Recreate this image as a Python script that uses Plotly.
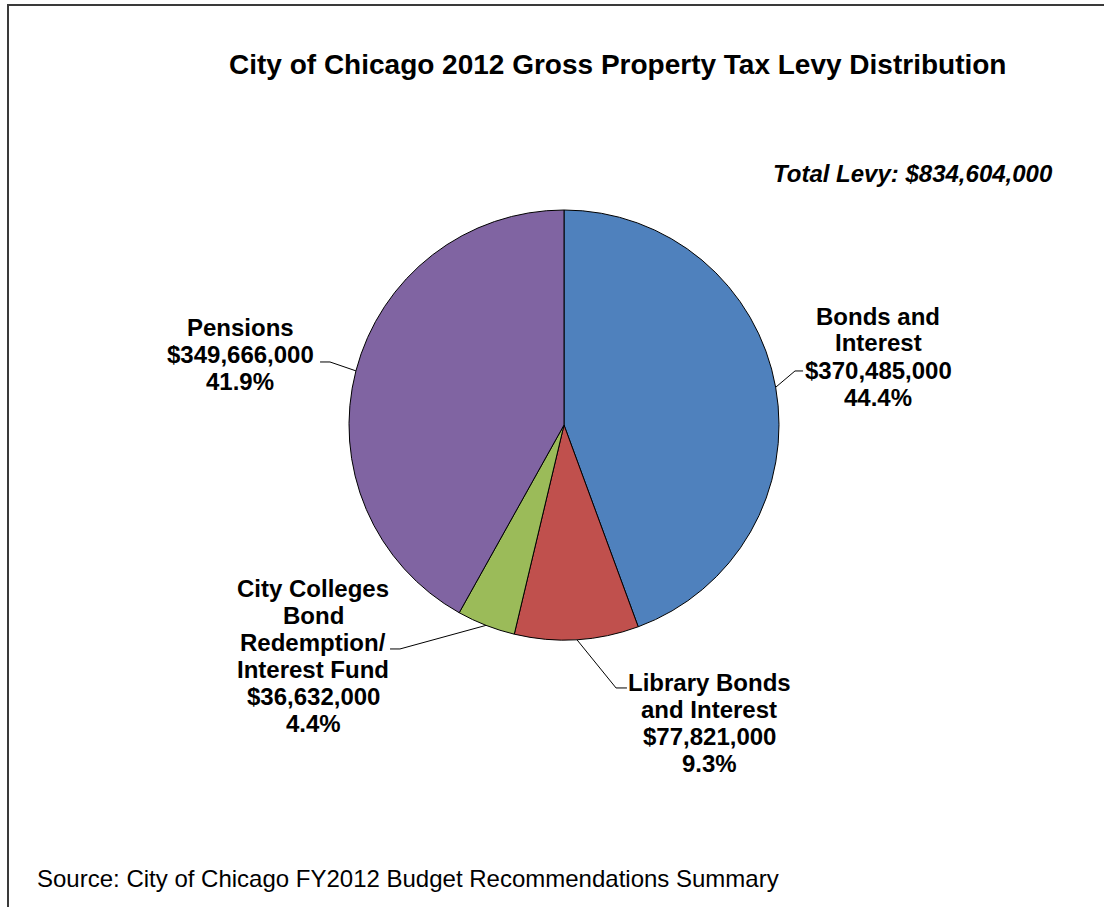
import math
import plotly.graph_objects as go

# ---- data ----
categories = ["Bonds and Interest", "Library Bonds and Interest",
              "City Colleges Bond Redemption/ Interest Fund", "Pensions"]
label_lines = [["Bonds and", "Interest"],
               ["Library Bonds", "and Interest"],
               ["City Colleges", "Bond", "Redemption/", "Interest Fund"],
               ["Pensions"]]
values = [370485000, 77821000, 36632000, 349666000]
colors = ["#4F81BD", "#C0504D", "#9BBB59", "#8064A2"]
title_text = "City of Chicago 2012 Gross Property Tax Levy Distribution"
total_text = "Total Levy: $834,604,000"
source_text = "Source: City of Chicago FY2012 Budget Recommendations Summary"

W, H = 1104, 907
FONT = "Liberation Sans, Arial, sans-serif"

# pie geometry (pixels)
cx, cy, R = 564, 425, 215
dom_x = [(cx - R) / W, (cx + R) / W]
dom_y = [1 - (cy + R) / H, 1 - (cy - R) / H]

fig = go.Figure(go.Pie(
    labels=categories, values=values, sort=False, direction="clockwise",
    rotation=0, textinfo="none", hoverinfo="label+value+percent",
    marker=dict(colors=colors, line=dict(color="#000000", width=1)),
    domain=dict(x=dom_x, y=dom_y), showlegend=False,
))

def px(x):
    return x / W

def py(y):
    return 1 - y / H

total = sum(values)
# label layout: text center x, first-line center y (px); elbow points
label_pos = [(878, 316), (709, 682), (313, 588), (240, 327)]
LINE_H = 27
elbows = [[(795, 371), (803, 371)],
          [(616, 688), (627, 688)],
          [(400, 649), (390, 649)],
          [(330, 362), (320, 362)]]

annotations = []
shapes = []
cum = 0
for i, v in enumerate(values):
    mid = (cum + v / 2) / total
    cum += v
    ang = 2 * math.pi * mid
    ex = cx + R * math.sin(ang)
    ey = cy - R * math.cos(ang)
    pct = 100 * v / total
    lines = label_lines[i] + ["${:,.0f}".format(v), "{:.1f}%".format(pct)]
    for k, ln in enumerate(lines):
        annotations.append(dict(
            x=px(label_pos[i][0]), y=py(label_pos[i][1] + k * LINE_H),
            xref="paper", yref="paper",
            text="<b>" + ln + "</b>", showarrow=False, align="center",
            xanchor="center", yanchor="middle",
            font=dict(family=FONT, size=24, color="#000000"),
        ))
    pts = [(ex, ey)] + elbows[i]
    path = "M " + " L ".join("{:.4f},{:.4f}".format(px(a), py(b)) for a, b in pts)
    shapes.append(dict(type="path", path=path, xref="paper", yref="paper",
                       line=dict(color="#000000", width=1)))

annotations.append(dict(
    x=px(617), y=py(65), xref="paper", yref="paper", text="<b>" + title_text + "</b>",
    showarrow=False, xanchor="center", yanchor="middle",
    font=dict(family=FONT, size=28, color="#000000")))
annotations.append(dict(
    x=px(1055), y=py(173), xref="paper", yref="paper", text="<b><i>" + total_text + "</i></b>",
    showarrow=False, xanchor="right", yanchor="middle",
    font=dict(family=FONT, size=24, color="#000000")))
annotations.append(dict(
    x=px(35), y=py(878), xref="paper", yref="paper", text=source_text,
    showarrow=False, xanchor="left", yanchor="middle",
    font=dict(family=FONT, size=24, color="#000000")))

shapes.append(dict(type="rect", xref="paper", yref="paper",
                   x0=px(8), y0=-0.02, x1=1.02, y1=py(5),
                   line=dict(color="#3a3a3a", width=2)))

fig.update_layout(
    width=W, height=H, margin=dict(l=0, r=0, t=0, b=0),
    paper_bgcolor="#FFFFFF", plot_bgcolor="#FFFFFF",
    annotations=annotations, shapes=shapes,
)
fig.write_html("out.html")
